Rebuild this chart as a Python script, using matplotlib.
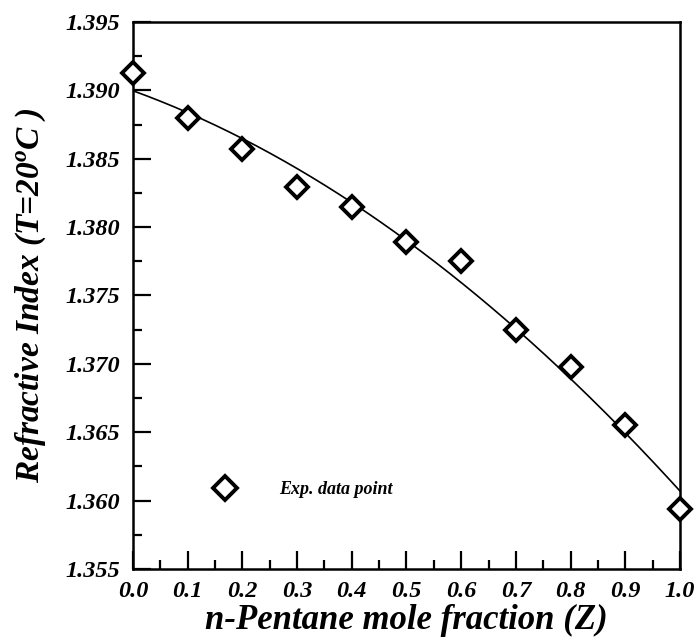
import numpy as np
import matplotlib
matplotlib.use("Agg")
import matplotlib.pyplot as plt
from matplotlib.ticker import MultipleLocator

plt.rcParams['font.family'] = ['Liberation Serif', 'DejaVu Serif']
plt.rcParams['font.weight'] = 'bold'
plt.rcParams['font.style'] = 'italic'
plt.rcParams['mathtext.fontset'] = 'custom'
plt.rcParams['mathtext.rm'] = 'Liberation Serif:bold:italic'
plt.rcParams['mathtext.it'] = 'Liberation Serif:bold:italic'
plt.rcParams['mathtext.bf'] = 'Liberation Serif:bold:italic'

# n-pentane mole fraction and measured refractive index at 20 C
mole_fraction = [0.0, 0.1, 0.2, 0.3, 0.4, 0.5, 0.6, 0.7, 0.8, 0.9, 1.0]
refractive_index = [1.3913, 1.3880, 1.3857, 1.3829, 1.3815, 1.3789,
                    1.3775, 1.3725, 1.3698, 1.3655, 1.3594]

x_ticks = [0.0, 0.1, 0.2, 0.3, 0.4, 0.5, 0.6, 0.7, 0.8, 0.9, 1.0]
y_ticks = [1.355, 1.360, 1.365, 1.370, 1.375, 1.380, 1.385, 1.390, 1.395]

fig = plt.figure(figsize=(6.98, 6.43), dpi=100)
ax = fig.add_axes([0.1905, 0.1151, 0.7837, 0.8507])

# quadratic fit through the measurements
coef = np.polyfit(mole_fraction, refractive_index, 2)
xf = np.linspace(0.0, 1.0, 200)
ax.plot(xf, np.polyval(coef, xf), color='black', lw=1.2, zorder=2)

ax.plot(mole_fraction, refractive_index, linestyle='none', marker='D',
        ms=11, mfc='white', mec='black', mew=2.8, zorder=3,
        clip_on=False, label='Exp. data point')

ax.set_xlim(0.0, 1.0)
ax.set_ylim(1.355, 1.395)
ax.set_xticks(x_ticks)
ax.set_yticks(y_ticks)
ax.set_xticklabels([f"{v:.1f}" for v in x_ticks])
ax.set_yticklabels([f"{v:.3f}" for v in y_ticks])
ax.xaxis.set_minor_locator(MultipleLocator(0.05))
ax.yaxis.set_minor_locator(MultipleLocator(0.0025))

ax.tick_params(which='both', direction='in', top=False, right=False,
               width=1.6, labelsize=17.5, pad=9)
ax.tick_params(which='major', length=13)
ax.tick_params(which='minor', length=6.5)
for lab in ax.get_xticklabels() + ax.get_yticklabels():
    lab.set_fontweight('bold')
    lab.set_fontstyle('italic')

for sp in ax.spines.values():
    sp.set_linewidth(1.8)

ax.set_xlabel('n-Pentane mole fraction (Z)', fontsize=25,
              fontweight='bold', fontstyle='italic', labelpad=1)
ax.set_ylabel(r'Refractive Index (T=20$^{\mathrm{o}}$C )', fontsize=24,
              fontweight='bold', fontstyle='italic', labelpad=13)

leg = ax.legend(loc='center left', bbox_to_anchor=(0.135, 0.145),
                frameon=False, borderpad=0, borderaxespad=0,
                handlelength=2, handletextpad=2.0, markerscale=1.15,
                prop={'family': 'Liberation Serif', 'weight': 'bold',
                      'style': 'italic', 'size': 13})

fig.savefig('out.png', dpi=100)
